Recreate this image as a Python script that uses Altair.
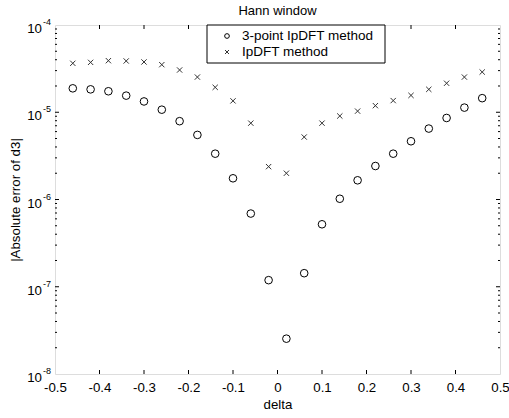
import altair as alt
import pandas as pd

delta = [-0.46, -0.42, -0.38, -0.34, -0.30, -0.26, -0.22, -0.18, -0.14, -0.10, -0.06, -0.02,
         0.02, 0.06, 0.10, 0.14, 0.18, 0.22, 0.26, 0.30, 0.34, 0.38, 0.42, 0.46]
err_3point = [1.88e-5, 1.83e-5, 1.74e-5, 1.55e-5, 1.33e-5, 1.07e-5, 7.9e-6, 5.5e-6, 3.35e-6, 1.75e-6,
              6.9e-7, 1.19e-7, 2.54e-8, 1.43e-7, 5.2e-7, 1.02e-6, 1.66e-6, 2.42e-6, 3.35e-6, 4.65e-6,
              6.5e-6, 8.6e-6, 1.13e-5, 1.45e-5]
err_ipdft = [3.64e-5, 3.73e-5, 3.9e-5, 3.87e-5, 3.77e-5, 3.51e-5, 3.05e-5, 2.53e-5, 1.93e-5, 1.35e-5,
             7.5e-6, 2.38e-6, 2.0e-6, 5.2e-6, 7.5e-6, 9.06e-6, 1.03e-5, 1.19e-5, 1.36e-5, 1.56e-5,
             1.83e-5, 2.15e-5, 2.53e-5, 2.89e-5]
series_names = ["3-point IpDFT method", "IpDFT method"]
title_text = "Hann window"

x_ticks = [-0.5, -0.4, -0.3, -0.2, -0.1, 0.0, 0.1, 0.2, 0.3, 0.4, 0.5]
x_inner_ticks = [-0.4, -0.3, -0.2, -0.1, 0.0, 0.1, 0.2, 0.3, 0.4]
decades = [1e-8, 1e-7, 1e-6, 1e-5, 1e-4]
exponents = ["-8", "-7", "-6", "-5", "-4"]
minor_mult = [2, 3, 4, 5, 6, 7, 8, 9]

W, H = 445, 349
FONT = "Liberation Sans"
FS = 13.3

df_c = pd.DataFrame({"delta": delta, "err": err_3point})
df_x = pd.DataFrame({"delta": delta, "err": err_ipdft})
one = pd.DataFrame({"a": [0]})

cross_path = "M-1,-1L1,1M1,-1L-1,1"

xscale = alt.Scale(domain=[-0.5, 0.5], nice=False, zero=False)
yscale = alt.Scale(type="log", domain=[1e-8, 1e-4], nice=False)

xenc = alt.X("delta:Q", scale=xscale,
             axis=alt.Axis(values=x_ticks, title="delta", ticks=False, domain=False, grid=False,
                           labelExpr="datum.value == 0 ? '0' : toString(round(datum.value*10)/10)",
                           labelFlush=False, labelOverlap=False,
                           labelPadding=6, titlePadding=4, labelFontSize=FS, titleFontSize=FS,
                           labelFont=FONT, titleFont=FONT, titleFontWeight="normal",
                           labelColor="black", titleColor="black"))
yenc = alt.Y("err:Q", scale=yscale,
             axis=alt.Axis(labels=False, ticks=False, domain=False, grid=False,
                           title="|Absolute error of d3|", titlePadding=33, titleFontSize=FS,
                           titleFont=FONT, titleFontWeight="normal", titleColor="black"))

circles = alt.Chart(df_c).mark_point(shape="circle", filled=False, size=58, strokeWidth=1,
                                     color="black", opacity=1).encode(x=xenc, y=yenc)
crosses = alt.Chart(df_x).mark_point(shape=cross_path, filled=False, size=28, strokeWidth=1,
                                     color="#333333", opacity=1).encode(
    x=alt.X("delta:Q", scale=xscale), y=alt.Y("err:Q", scale=yscale))

xt = pd.DataFrame({"t": x_inner_ticks})
tick_bottom = alt.Chart(xt).mark_rule(color="black", strokeWidth=1).encode(
    x=alt.X("t:Q", scale=xscale), y=alt.value(H), y2=alt.value(H - 4))
tick_top = alt.Chart(xt).mark_rule(color="black", strokeWidth=1).encode(
    x=alt.X("t:Q", scale=xscale), y=alt.value(0), y2=alt.value(4))

ymaj = pd.DataFrame({"t": decades[1:-1]})
yminor = pd.DataFrame({"t": [m * d for d in decades[:-1] for m in minor_mult]})
tick_lmaj = alt.Chart(ymaj).mark_rule(color="black", strokeWidth=1).encode(
    y=alt.Y("t:Q", scale=yscale), x=alt.value(0), x2=alt.value(4))
tick_rmaj = alt.Chart(ymaj).mark_rule(color="black", strokeWidth=1).encode(
    y=alt.Y("t:Q", scale=yscale), x=alt.value(W), x2=alt.value(W - 4))
tick_lmin = alt.Chart(yminor).mark_rule(color="black", strokeWidth=1).encode(
    y=alt.Y("t:Q", scale=yscale), x=alt.value(0), x2=alt.value(2))
tick_rmin = alt.Chart(yminor).mark_rule(color="black", strokeWidth=1).encode(
    y=alt.Y("t:Q", scale=yscale), x=alt.value(W), x2=alt.value(W - 2))

ylab = pd.DataFrame({"t": decades, "e": exponents})
lab10 = alt.Chart(ylab).mark_text(align="right", baseline="middle", fontSize=FS, font=FONT,
                                  color="black", dy=4).encode(
    y=alt.Y("t:Q", scale=yscale), x=alt.value(-13), text=alt.value("10"))
labexp = alt.Chart(ylab).mark_text(align="left", baseline="middle", fontSize=9, font=FONT,
                                   color="black", dy=-3).encode(
    y=alt.Y("t:Q", scale=yscale), x=alt.value(-12), text="e:N")

title_mark = alt.Chart(one).mark_text(
    align="center", baseline="middle", fontSize=13, font=FONT, color="black").encode(
    x=alt.value(W / 2), y=alt.value(-14), text=alt.value(title_text))

# legend box drawn manually
leg_box = alt.Chart(one).mark_rect(fill="white", stroke="black", strokeWidth=1).encode(
    x=alt.value(152), x2=alt.value(330), y=alt.value(0), y2=alt.value(38))
leg_sym1 = alt.Chart(one).mark_point(
    shape="circle", filled=False, size=22, strokeWidth=1, color="black", opacity=1).encode(
    x=alt.value(172), y=alt.value(11))
leg_sym2 = alt.Chart(one).mark_point(
    shape=cross_path, filled=False, size=16, strokeWidth=1, color="#333333", opacity=1).encode(
    x=alt.value(172), y=alt.value(27))
leg_txt1 = alt.Chart(one).mark_text(
    align="left", baseline="middle", fontSize=13.5, font=FONT, color="black").encode(
    x=alt.value(187), y=alt.value(11), text=alt.value(series_names[0]))
leg_txt2 = alt.Chart(one).mark_text(
    align="left", baseline="middle", fontSize=13.5, font=FONT, color="black").encode(
    x=alt.value(187), y=alt.value(27), text=alt.value(series_names[1]))

chart = alt.layer(
    tick_bottom, tick_top, tick_lmaj, tick_rmaj, tick_lmin, tick_rmin,
    crosses, circles, lab10, labexp, title_mark,
    leg_box, leg_sym1, leg_sym2, leg_txt1, leg_txt2,
).properties(
    width=W, height=H,
    autosize=alt.AutoSizeParams(type="none"),
    padding={"left": 55, "top": 25, "right": 9, "bottom": 44},
).configure_view(stroke="black", strokeWidth=1).configure(background="white")

chart.save("out.html", embed_options={"renderer": "svg", "actions": False})
